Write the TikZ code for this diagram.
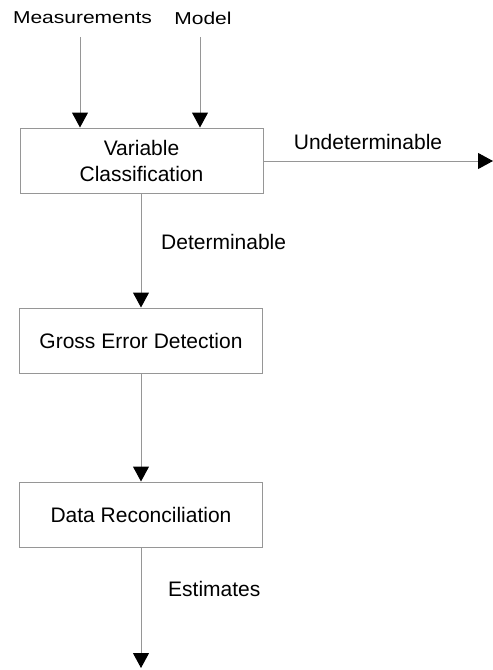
\documentclass[tikz,border=0pt]{standalone}
\usepackage{fontspec}
\setmainfont{Liberation Sans}
\usetikzlibrary{arrows.meta}
\definecolor{linegray}{RGB}{150,150,150}
\tikzset{
  procbox/.style={draw=linegray, line width=1pt, minimum width=243pt, minimum height=65pt, inner sep=0pt, align=center, font=\fontsize{21}{26}\selectfont},
  flow/.style={draw=linegray, line width=1pt, -{Triangle[width=16pt,length=15pt,color=black]}},
  lbl/.style={inner sep=0pt, font=\fontsize{21}{24}\selectfont}
}
\begin{document}
\begin{tikzpicture}[x=1pt,y=-1pt]
\useasboundingbox (0,0) rectangle (493,670);
\node[procbox] (vc) at (141.5,160.5) {Variable\\Classification};
\node[procbox] (ged) at (141,340.5) {Gross Error Detection};
\node[procbox] (dr) at (141,514.5) {Data Reconciliation};
\node[lbl] (meas) at (82.5,18) {\scalebox{1}[0.82]{Measurements}};
\node[lbl] (model) at (203,18) {\scalebox{1}[0.82]{Model}};
\coordinate (measstart) at (80,37);
\coordinate (modelstart) at (200,37);
\coordinate (undetend) at (493,161);
\coordinate (estend) at (141,668);
\draw[flow] (measstart) -- (measstart |- vc.north);
\draw[flow] (modelstart) -- (modelstart |- vc.north);
\draw[flow] (vc.east |- undetend) -- (undetend);
\node[lbl, anchor=center] (undet) at (368,142) {Undeterminable};
\draw[flow] (vc.south -| ged.north) -- (ged.north);
\node[lbl, anchor=west] (det) at (161,242) {Determinable};
\draw[flow] (ged.south) -- (dr.north);
\draw[flow] (dr.south) -- (estend);
\node[lbl, anchor=west] (est) at (168,589) {Estimates};
\end{tikzpicture}
\end{document}
